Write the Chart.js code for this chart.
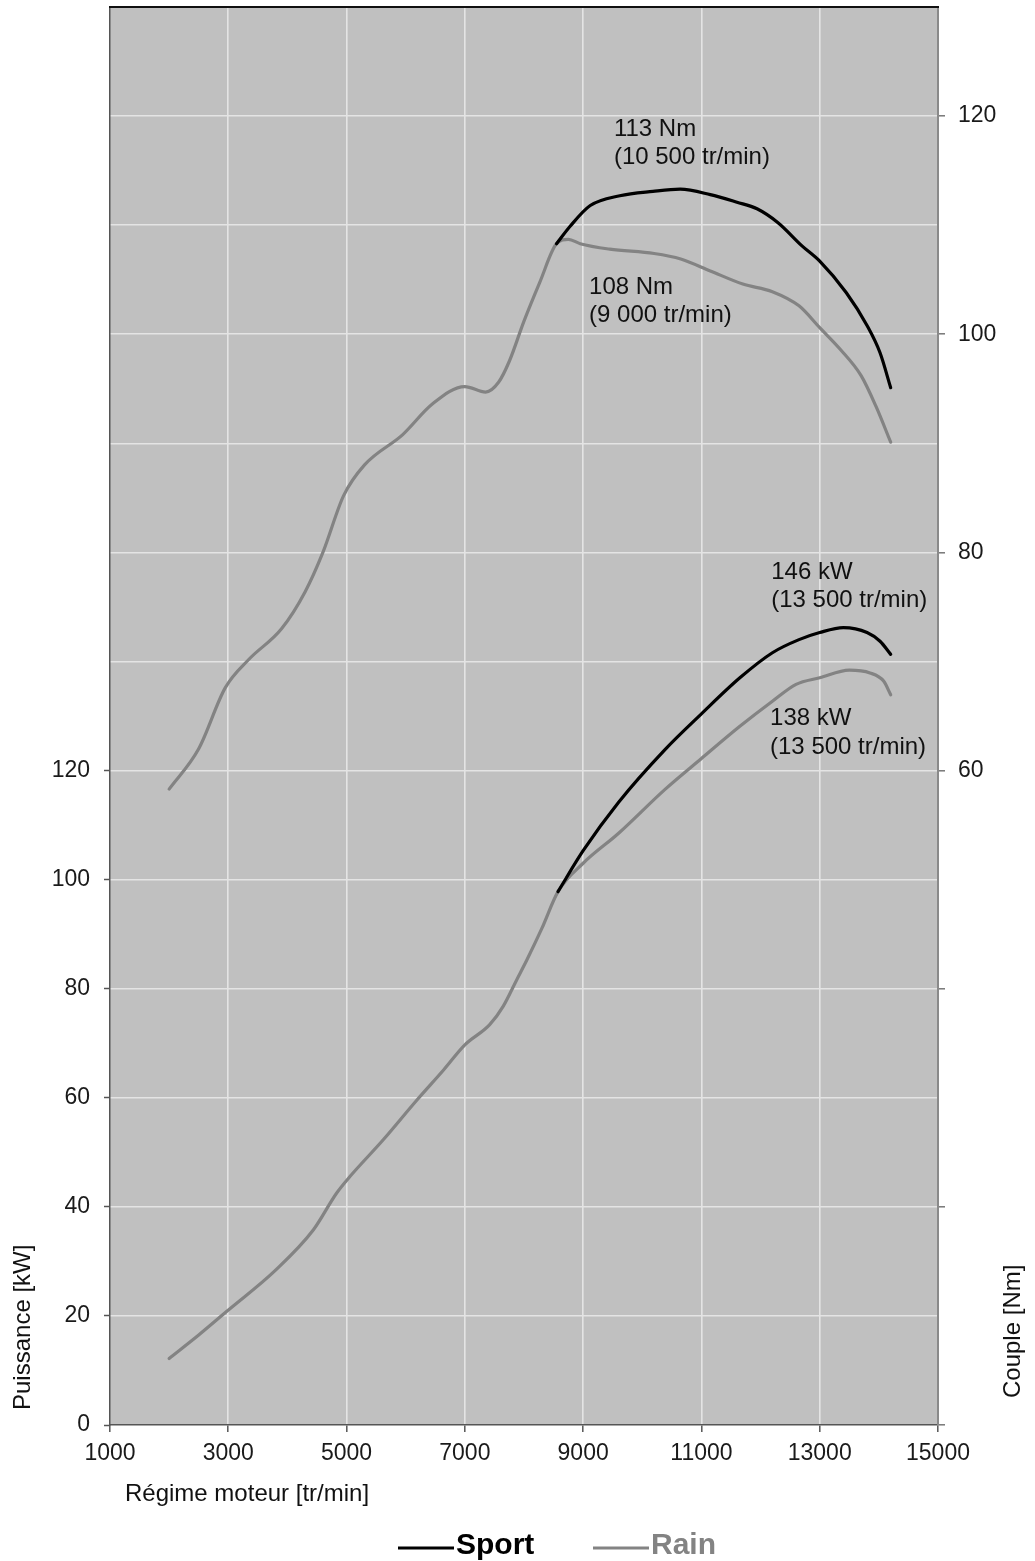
<!DOCTYPE html>
<html><head><meta charset="utf-8">
<script src="https://cdn.jsdelivr.net/npm/chart.js@4.4.1/dist/chart.umd.min.js"></script>
<style>html,body{margin:0;padding:0;background:#fff;} canvas{display:block;}</style>
</head><body>
<canvas id="c" width="1035" height="1561"></canvas>
<script>
// ---------- data ----------
const rainTorqueRpm = [2000,2500,2950,3350,3900,4300,4600,4950,5300,5950,6450,7000,7350,7570,7750,8000,8270,8550,8750,8950,9450,10200,10650,11150,11700,12200,12650,13000,13350,13700,13950,14200];
const rainTorqueNm  = [58.3,62.0,67.6,70.2,73.0,76.4,80.0,85.2,88.0,90.8,93.6,95.2,94.7,95.6,97.5,101.2,104.8,108.3,108.7,108.3,107.8,107.4,106.9,105.8,104.6,103.9,102.6,100.6,98.6,96.2,93.4,90.1];

const sportTorqueRpm = [8550,8780,9120,9620,10180,10640,11150,11600,11940,12300,12700,13000,13450,13800,14020,14200];
const sportTorqueNm  = [108.3,109.9,111.8,112.7,113.1,113.3,112.8,112.1,111.5,110.2,108.1,106.7,103.8,100.8,98.3,95.1];

const rainPowerRpm = [2000,2500,2970,3800,4440,4830,5060,5620,6190,6640,7000,7420,7650,7880,8050,8300,8575,9000,9600,10380,11000,11650,12200,12600,13000,13500,13850,14080,14200];
const rainPowerKw  = [12.2,16.5,20.8,28.4,35.8,42.5,45.6,52.3,59.6,65.1,69.7,73.4,76.8,81.7,85.3,91.0,97.8,103.0,108.5,116.5,122.2,128.1,132.7,135.8,137.0,138.4,137.9,136.4,133.9];

const sportPowerRpm = [8575,9000,9600,10380,11000,11650,12200,12650,13000,13400,13800,14020,14200];
const sportPowerKw  = [97.8,105.3,114.2,123.8,130.4,137.0,141.6,144.0,145.3,146.2,145.3,143.7,141.3];

const xTicks = [1000,3000,5000,7000,9000,11000,13000,15000];
const powerTicks = [0,20,40,60,80,100,120];
const torqueGridValues = [0,10,20,30,40,50,60,70,80,90,100,110,120,130];
const torqueTickMarks = [0,20,40,60,80,100,120];
const torqueTickLabels = [60,80,100,120];

const seriesNames = ['Sport','Rain'];
const annotationLines = [
  ['113 Nm','(10 500 tr/min)'],
  ['108 Nm','(9 000 tr/min)'],
  ['146 kW','(13 500 tr/min)'],
  ['138 kW','(13 500 tr/min)']
];
const annotationAnchors = [ // [rpm, value, axis]
  [9520, 118.2, 'yT'],
  [9100, 103.7, 'yT'],
  [12180, 155.2, 'yP'],
  [12160, 128.3, 'yP']
];
const axisTitles = {x:'Régime moteur [tr/min]', left:'Puissance [kW]', right:'Couple [Nm]'};

// ---------- styles ----------
const FONT = "'Liberation Sans', Arial, Helvetica, sans-serif";
const SPORT = '#000000';
const RAIN = '#838383';
const GRID = '#e4e4e4';
const PLOT_BG = '#c0c0c0';

function pts(xs, ys){ return xs.map((x,i)=>({x:x, y:ys[i]})); }

const lineStyle = {borderWidth:3.2, pointRadius:0, pointHoverRadius:0, fill:false, cubicInterpolationMode:'monotone', borderCapStyle:'round', borderJoinStyle:'round'};

const decor = {
  id:'decor',
  beforeDraw(chart){
    const {ctx, chartArea:a} = chart;
    ctx.save();
    ctx.fillStyle = PLOT_BG;
    ctx.fillRect(a.left, a.top, a.right-a.left, a.bottom-a.top);
    ctx.restore();
  },
  afterDraw(chart){
    const {ctx, chartArea:a, scales} = chart;
    ctx.save();
    // top border
    ctx.strokeStyle = '#111'; ctx.lineWidth = 2;
    ctx.beginPath(); ctx.moveTo(a.left-1, a.top); ctx.lineTo(a.right+1, a.top); ctx.stroke();
    // annotations
    ctx.fillStyle = '#111';
    ctx.font = '24px ' + FONT;
    ctx.textAlign = 'left'; ctx.textBaseline = 'alphabetic';
    annotationLines.forEach((lines, i) => {
      const [rpm, val, axis] = annotationAnchors[i];
      const x = scales.x.getPixelForValue(rpm);
      const y = scales[axis].getPixelForValue(val);
      lines.forEach((t, j) => ctx.fillText(t, x, y + j*28.5));
    });
    // axis titles
    ctx.font = '24px ' + FONT;
    ctx.fillStyle = '#111';
    ctx.fillText(axisTitles.x, a.left + 15, a.bottom + 76);
    ctx.save();
    ctx.translate(30, a.bottom - 15);
    ctx.rotate(-Math.PI/2);
    ctx.fillText(axisTitles.left, 0, 0);
    ctx.restore();
    ctx.save();
    ctx.translate(a.right + 82, a.bottom - 27);
    ctx.rotate(-Math.PI/2);
    ctx.fillText(axisTitles.right, 0, 0);
    ctx.restore();
    // legend
    const legendX = [398, 593];
    const ly = a.bottom + 123;
    ctx.font = 'bold 30px ' + FONT;
    seriesNames.forEach((name, i) => {
      const ds = chart.data.datasets.find(d => d.label === name);
      const x0 = legendX[i];
      ctx.strokeStyle = ds.borderColor; ctx.lineWidth = 3.2;
      ctx.beginPath(); ctx.moveTo(x0, ly); ctx.lineTo(x0 + 56, ly); ctx.stroke();
      ctx.fillStyle = ds.borderColor;
      ctx.fillText(name, x0 + 58, ly + 6);
    });
    ctx.restore();
  }
};

new Chart(document.getElementById('c'), {
  type:'line',
  data:{ datasets:[
    Object.assign({label:'Sport', data:pts(sportPowerRpm, sportPowerKw), borderColor:SPORT, yAxisID:'yP'}, lineStyle),
    Object.assign({label:'Sport', data:pts(sportTorqueRpm, sportTorqueNm), borderColor:SPORT, yAxisID:'yT'}, lineStyle),
    Object.assign({label:'Rain', data:pts(rainPowerRpm, rainPowerKw), borderColor:RAIN, yAxisID:'yP'}, lineStyle),
    Object.assign({label:'Rain', data:pts(rainTorqueRpm, rainTorqueNm), borderColor:RAIN, yAxisID:'yT'}, lineStyle)
  ]},
  options:{
    responsive:false, animation:false, devicePixelRatio:1,
    layout:{padding:{top:7, bottom:0, left:0, right:0}, autoPadding:false},
    plugins:{legend:{display:false}, tooltip:{enabled:false}},
    scales:{
      x:{type:'linear', min:1000, max:15000,
        afterBuildTicks(s){ s.ticks = xTicks.map(v=>({value:v})); },
        afterFit(s){ s.height = 136; },
        grid:{color:c => (c.tick && (c.tick.value===1000||c.tick.value===15000)) ? 'rgba(0,0,0,0)' : GRID, lineWidth:1.6, tickColor:'#555', tickLength:7, tickWidth:1.5},
        border:{display:true, color:'#555', width:1.5},
        ticks:{autoSkip:false, maxRotation:0, padding:8, color:'#1a1a1a', font:{family:FONT, size:23}, callback:v=>String(v)}
      },
      yP:{type:'linear', position:'left', min:0, max:260,
        afterBuildTicks(s){ s.ticks = powerTicks.map(v=>({value:v})); },
        afterFit(s){ s.width = 110; s.paddingTop = 0; },
        grid:{drawOnChartArea:false, tickColor:'#555', tickLength:6, tickWidth:1.5},
        border:{display:true, color:'#555', width:1.5},
        ticks:{autoSkip:false, padding:14, color:'#1a1a1a', font:{family:FONT, size:23, lineHeight:0.25}, callback:v=>String(v)}
      },
      yT:{type:'linear', position:'right', min:0, max:130,
        afterBuildTicks(s){ s.ticks = torqueGridValues.map(v=>({value:v})); },
        afterFit(s){ s.width = 97; s.paddingTop = 0; },
        grid:{drawOnChartArea:true, color:c => (c.tick && (c.tick.value===0||c.tick.value===130)) ? 'rgba(0,0,0,0)' : GRID, lineWidth:1.6,
          tickColor:c => (c.tick && torqueTickMarks.includes(c.tick.value)) ? '#777' : 'rgba(0,0,0,0)', tickLength:7, tickWidth:1.5},
        border:{display:true, color:'#8a8a8a', width:2},
        ticks:{autoSkip:false, padding:13, color:'#1a1a1a', font:{family:FONT, size:23, lineHeight:0.25}, callback:v => torqueTickLabels.includes(v) ? String(v) : ''}
      }
    }
  },
  plugins:[decor]
});
</script>
</body></html>
